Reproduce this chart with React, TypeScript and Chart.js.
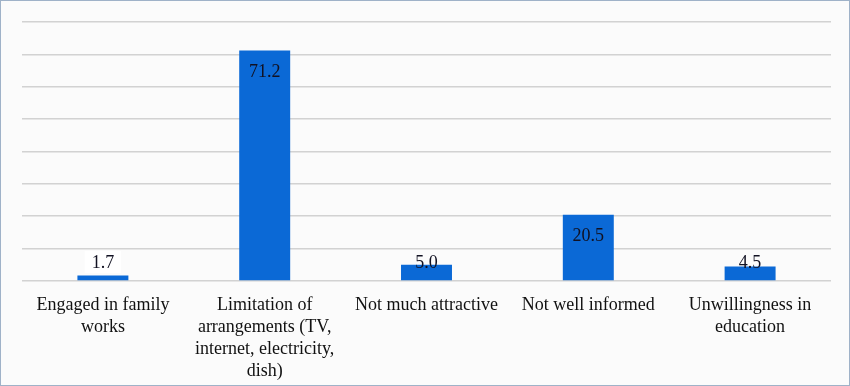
import React, { useEffect, useRef } from "react";
import { Chart, registerables } from "chart.js";

Chart.register(...registerables);

const categories: string[][] = [
  ["Engaged in family", "works"],
  ["Limitation of", "arrangements (TV,", "internet, electricity,", "dish)"],
  ["Not much attractive"],
  ["Not well informed"],
  ["Unwillingness in", "education"],
];
const values: number[] = [1.7, 71.2, 5.0, 20.5, 4.5];
const valueLabels: string[] = ["1.7", "71.2", "5.0", "20.5", "4.5"];
const labelBoxed: boolean[] = [true, false, false, false, false];

const FONT = "'Liberation Serif', 'Times New Roman', serif";

const valueLabelPlugin = {
  id: "valueLabels",
  afterDatasetsDraw(chart: any) {
    const ctx = chart.ctx;
    const meta = chart.getDatasetMeta(0);
    const base = chart.scales.y.getPixelForValue(0);
    ctx.save();
    ctx.font = `18px ${FONT}`;
    ctx.textAlign = "center";
    ctx.textBaseline = "middle";
    meta.data.forEach((bar: any, i: number) => {
      const y = Math.min(bar.y + 21, base - 19);
      const txt = valueLabels[i];
      if (labelBoxed[i]) {
        const w = ctx.measureText(txt).width + 14;
        ctx.fillStyle = "#ffffff";
        ctx.fillRect(bar.x - w / 2, y - 11, w, 22);
      }
      ctx.fillStyle = "#111122";
      ctx.fillText(txt, bar.x, y + 1);
    });
    ctx.restore();
  },
};

export default function App() {
  const ref = useRef<HTMLCanvasElement>(null);
  useEffect(() => {
    document.body.style.margin = "0";
    const chart = new Chart(ref.current!, {
      type: "bar",
      data: {
        labels: categories,
        datasets: [
          {
            data: values,
            backgroundColor: "#0b69d6",
            categoryPercentage: 1,
            barPercentage: 0.315,
          },
        ],
      },
      options: {
        animation: false,
        responsive: false,
        maintainAspectRatio: false,
        layout: { padding: { left: 21, right: 18, top: 21, bottom: 0 } },
        plugins: { legend: { display: false }, tooltip: { enabled: false } },
        scales: {
          x: {
            grid: { display: false },
            border: { display: false },
            ticks: {
              font: { family: FONT, size: 18, lineHeight: 1.23 },
              color: "#111111",
              padding: 5,
              maxRotation: 0,
              autoSkip: false,
            },
            afterFit: (s: any) => {
              s.height = 103;
            },
          },
          y: {
            min: 0,
            max: 80,
            ticks: { display: false, stepSize: 10 },
            grid: { color: "#d2d2d2", lineWidth: 1.6, drawTicks: false },
            border: { display: false },
            afterFit: (s: any) => {
              s.width = 0;
            },
          },
        },
      },
      plugins: [valueLabelPlugin],
    });
    return () => chart.destroy();
  }, []);
  return (
    <div
      style={{
        width: 850,
        height: 386,
        boxSizing: "border-box",
        border: "1.5px solid #9fb2c8",
        background: "#fbfbfb",
        position: "relative",
        overflow: "hidden",
      }}
    >
      <canvas
        ref={ref}
        width={848}
        height={383}
        style={{ display: "block", width: 848, height: 383 }}
      />
    </div>
  );
}
